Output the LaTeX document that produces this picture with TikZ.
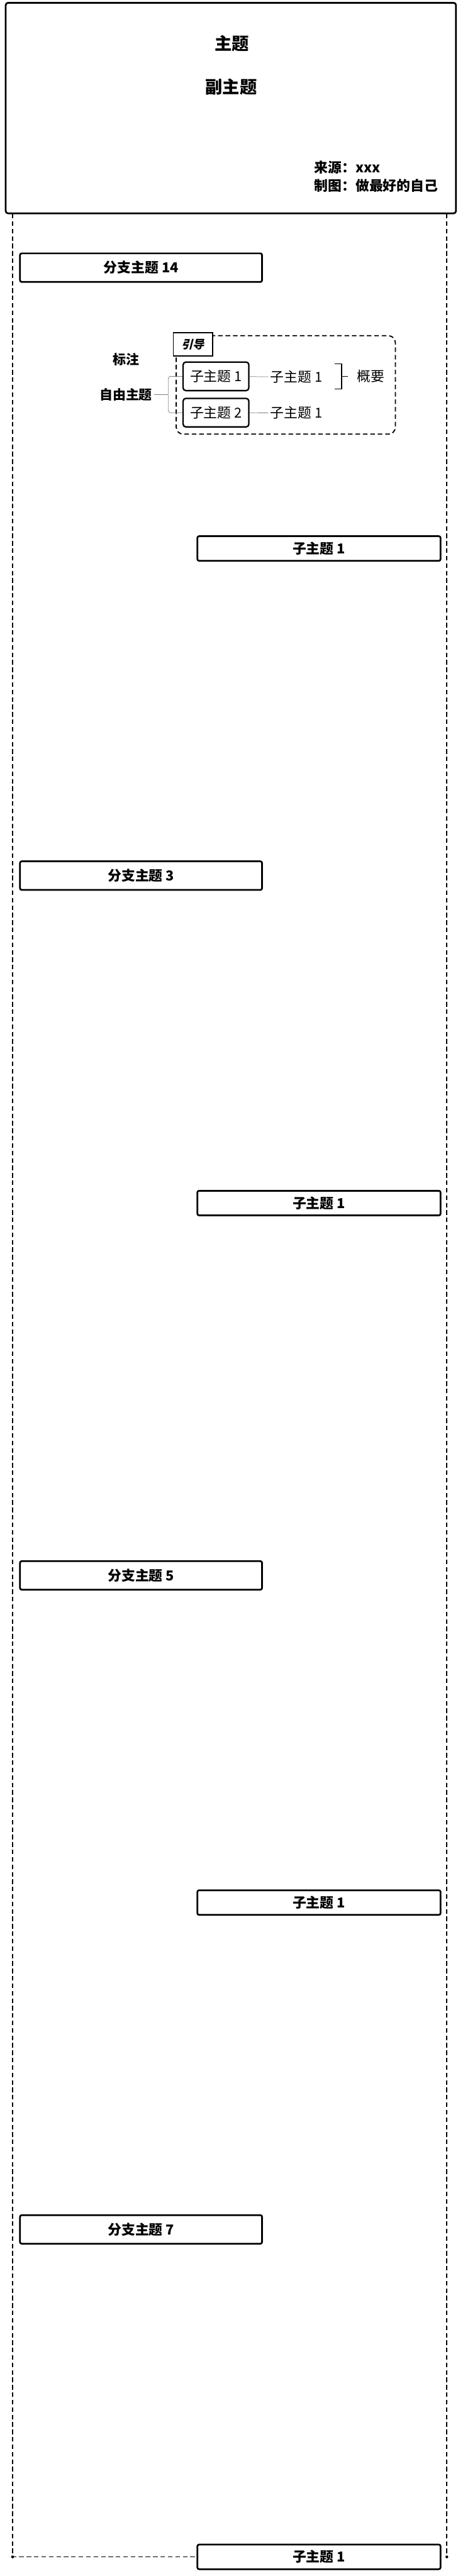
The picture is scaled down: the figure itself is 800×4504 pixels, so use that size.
\documentclass[tikz,border=0pt]{standalone}
\usepackage{fontspec}
\setmainfont{Noto Sans CJK SC}
\newfontfamily\guidefont{Noto Sans CJK SC}[FakeSlant=0.25]
\usetikzlibrary{positioning}

\begin{document}
\begin{tikzpicture}[x=1pt, y=-1pt,
    every node/.style={font=\fontsize{24}{28}\selectfont\bfseries},
    branchbox/.style={draw, line width=3pt, rounded corners=3pt, minimum width=423pt, minimum height=50pt},
    subbox/.style={draw, line width=3pt, rounded corners=3pt, minimum width=425pt, minimum height=43pt},
    topicbox/.style={draw, line width=2.5pt, rounded corners=5pt, minimum width=115pt, minimum height=50pt, font=\fontsize{24}{28}\selectfont},
    plaintext/.style={font=\fontsize{24}{28}\selectfont},
    frameline/.style={dash pattern=on 8pt off 5pt, line width=2pt},
    thinline/.style={gray, line width=0.8pt}]
    \useasboundingbox (0,0) rectangle (800,4504);
    \node[draw, line width=3pt, rounded corners=4pt, minimum width=787pt, minimum height=368pt] (cover) at (403.5,189) {};
    \node[font=\fontsize{30}{34}\selectfont\bfseries] (title) at (405,76) {主题};
    \node[font=\fontsize{30}{34}\selectfont\bfseries] (subtitle) at (404,152) {副主题};
    \node[anchor=west] (source) at (546,293) {来源：xxx};
    \node[anchor=west] (maker) at (546,325) {制图：做最好的自己};
    \foreach \n/\y in {14/468, 3/1531, 5/2754.5, 7/3898}
        \node[branchbox] (branch\n) at (246.5,\y) {分支主题 \n};
    \foreach \i/\y in {1/959, 2/2103.5, 3/3326.5, 4/4470.5}
        \node[subbox] (sub\i) at (557.5,\y) {子主题 1};
    \coordinate (ltop) at (22,374);
    \coordinate (lbot) at (22,4470.5);
    \coordinate (rtop) at (781,374);
    \coordinate (rbot) at (781,4470.5);
    \draw[frameline] (ltop) -- (lbot) -- (sub4.west);
    \draw[frameline] (rtop) -- (rbot);
    \fill (lbot) circle (2.5pt) (rbot) circle (2.5pt);
    \draw[frameline, rounded corners=12pt] (308,587) rectangle (691,759);
    \node[draw, line width=2pt, fill=white, minimum width=69pt, minimum height=40pt, font=\fontsize{20}{24}\selectfont\guidefont\bfseries] (guide) at (337.5,602) {引导};
    \node[font=\fontsize{23}{27}\selectfont\bfseries] (note) at (220,628) {标注};
    \node[font=\fontsize{23}{27}\selectfont\bfseries] (free) at (220,690) {自由主题};
    \node[topicbox] (topic1) at (377.5,658) {子主题 1};
    \node[topicbox] (topic2) at (377.5,721.5) {子主题 2};
    \node[plaintext] (leaf1) at (518,659) {子主题 1};
    \node[plaintext] (leaf2) at (518,722) {子主题 1};
    \node[plaintext] (summary) at (648,658) {概要};
    \draw[thinline] (topic1) -- (leaf1);
    \draw[thinline] (topic2) -- (leaf2);
    \draw[thinline, rounded corners=4pt] (topic1.west) -| (294,690) |- (topic2.west);
    \draw[thinline] (free) -- (294,690);
    \draw[line width=1.5pt] (585,636) -- (597,636) -- (597,680) -- (585,680);
    \draw[line width=1.5pt] (597,658) -- (608,658);
\end{tikzpicture}
\end{document}
